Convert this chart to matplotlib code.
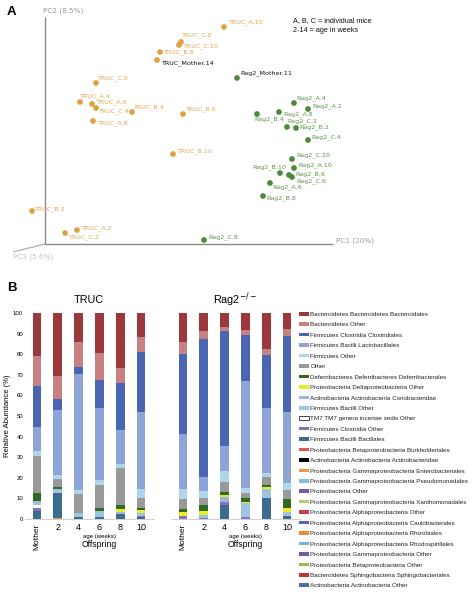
import matplotlib
matplotlib.use("Agg")
import matplotlib.pyplot as plt
from matplotlib.patches import Patch
import numpy as np

# ---------------- Panel A data (PCoA scores) ----------------
truc_names = ["TRUC_A.10", "TRUC_C.8", "TRUC_C.10", "TRUC_B.8", "TRUC_Mother.14", "TRUC_C.6",
              "TRUC_A.4", "TRUC_A.6", "TRUC_C.4", "TRUC_B.4", "TRUC_A.8", "TRUC_B.6",
              "TRUC_B.10", "TRUC_B.2", "TRUC_A.2", "TRUC_C.2"]
truc_pc1 = [0.068, -0.018, -0.022, -0.060, -0.066, -0.188, -0.220, -0.196, -0.188, -0.116,
            -0.194, -0.014, -0.034, -0.316, -0.226, -0.250]
truc_pc2 = [0.206, 0.176, 0.170, 0.156, 0.140, 0.094, 0.056, 0.052, 0.044, 0.036,
            0.018, 0.032, -0.048, -0.162, -0.200, -0.206]

rag_names = ["Rag2_Mother.11", "Rag2_A.4", "Rag2_A.2", "Rag2_A.8", "Rag2_B.4", "Rag2_C.2",
             "Rag2_B.2", "Rag2_C.4", "Rag2_C.10", "Rag2_A.10", "Rag2_B.10", "Rag2_B.6",
             "Rag2_C.6", "Rag2_A.6", "Rag2_B.8", "Rag2_C.8"]
rag_pc1 = [0.094, 0.208, 0.236, 0.178, 0.134, 0.194, 0.212, 0.236, 0.204, 0.208, 0.180,
           0.198, 0.204, 0.160, 0.146, 0.028]
rag_pc2 = [0.104, 0.054, 0.042, 0.036, 0.032, 0.006, 0.004, -0.020, -0.058, -0.076, -0.086,
           -0.090, -0.094, -0.106, -0.132, -0.220]

# label offsets (pixels: dx right, dy down) -- style only
truc_off = [(4, -5), (0, -7), (4, 1), (3, 0), (4, 3), (1, -5), (-1, -6), (4, -2), (2, 3),
            (1, -5), (4, 2), (2, -5), (4, -3), (2, -2), (4, -2), (3, 4)]
rag_off = [(3, -5), (2, -5), (4, -3), (4, 2), (-3, 5), (0, -6), (3, -1), (3, -3), (4, -4),
           (4, -3), (-28, -6), (6, -1), (4, 4), (2, 4), (3, 2), (4, -3)]

# ---------------- Panel B data (relative abundance, %) ----------------
samples = ["Mother", "2", "4", "6", "8", "10"]
taxa = [
    "Bacteroidetes Bacteroidetes Bacteroidales",
    "Bacteroidetes Other",
    "Firmicutes Clostridia Clostridiales",
    "Firmicutes Bacilli Lactobacillales",
    "Firmicutes Other",
    "Other",
    "Deferribacteres Deferribacteres Deferribacterales",
    "Proteobacteria Deltaproteobacteria Other",
    "Actinobacteria Actinobacteria Coriobacteridae",
    "Firmicutes Bacilli Other",
    "TM7 TM7 genera incertae sedis Other",
    "Firmicutes Clostridia Other",
    "Firmicutes Bacilli Bacillales",
    "Proteobacteria Betaproteobacteria Burkholderiales",
    "Actinobacteria Actinobacteria Actinobacteridae",
    "Proteobacteria Gammaproteobacteria Enterobacteriales",
    "Proteobacteria Gammaproteobacteria Pseudomonadales",
    "Proteobacteria Other",
    "Proteobacteria Gammaproteobacteria Xanthomonadales",
    "Proteobacteria Alphaproteobacteria Other",
    "Proteobacteria Alphaproteobacteria Caulobacterales",
    "Proteobacteria Alphaproteobacteria Rhizobiales",
    "Proteobacteria Alphaproteobacteria Rhodospirillales",
    "Proteobacteria Gammaproteobacteria Other",
    "Proteobacteria Betaproteobacteria Other",
    "Bacteroidetes Sphingobacteria Sphingobacteriales",
    "Actinobacteria Actinobacteria Other",
]
# values: TRUC Mother,2,4,6,8,10 then Rag2 Mother,2,4,6,8,10
bacteroidales     = [20.7, 30.6, 13.9, 19.4, 26.7, 11.6, 14.2, 8.6, 6.6, 8.1, 17.6, 7.9]
bacteroidetes_oth = [14.5, 11.3, 12.1, 12.9, 7.3, 7.3, 5.5, 3.9, 2.1, 2.4, 3.0, 3.3]
clostridiales     = [20.2, 5.1, 3.7, 14.0, 22.6, 29.0, 38.8, 67.0, 55.7, 22.7, 25.3, 36.9]
lactobacillales   = [11.6, 31.5, 56.0, 34.8, 16.6, 37.6, 26.8, 7.0, 12.5, 51.6, 31.6, 34.4]
firmicutes_oth    = [2.6, 2.2, 2.0, 2.3, 1.8, 4.3, 4.8, 3.4, 5.3, 2.8, 2.0, 3.2]
other             = [18.0, 3.9, 9.4, 11.3, 18.3, 4.9, 5.0, 3.4, 4.7, 2.2, 4.0, 4.5]
deferribacterales = [3.6, 0.8, 0.0, 1.3, 1.7, 1.1, 1.5, 2.9, 1.4, 1.8, 0.9, 4.5]
delta_oth         = [0.0, 0.0, 0.0, 0.0, 1.6, 1.3, 2.0, 2.0, 1.0, 0.6, 1.0, 1.9]
coriobacteridae   = [1.2, 0.0, 0.0, 0.0, 1.1, 0.0, 0.0, 0.0, 2.4, 0.0, 0.0, 0.0]
bacilli_oth       = [0.6, 2.0, 1.9, 3.2, 0.0, 1.3, 0.0, 1.2, 0.0, 6.8, 4.4, 1.9]
tm7               = [1.6, 0.0, 0.0, 0.0, 0.0, 0.0, 0.0, 0.0, 0.0, 0.0, 0.0, 0.0]
clostridia_oth    = [1.6, 0.0, 0.0, 0.0, 0.0, 0.6, 1.4, 0.6, 1.5, 1.0, 0.0, 0.0]
bacillales        = [3.8, 12.2, 1.0, 0.8, 2.3, 1.0, 0.0, 0.0, 6.8, 0.0, 10.2, 1.5]
burkholderiales   = [0.0] * 12
actinobacteridae  = [0.0] * 12
enterobacteriales = [0.0, 0.4, 0.0, 0.0, 0.0, 0.0, 0.0, 0.0, 0.0, 0.0, 0.0, 0.0]
pseudomonadales   = [0.0] * 12
proteo_oth        = [0.0] * 12
xanthomonadales   = [0.0] * 12
alpha_oth         = [0.0] * 12
caulobacterales   = [0.0] * 12
rhizobiales       = [0.0] * 12
rhodospirillales  = [0.0] * 12
gamma_oth         = [0.0] * 12
beta_oth          = [0.0] * 12
sphingobacteriales = [0.0] * 12
actino_oth        = [0.0] * 12

abundance = [bacteroidales, bacteroidetes_oth, clostridiales, lactobacillales, firmicutes_oth,
             other, deferribacterales, delta_oth, coriobacteridae, bacilli_oth, tm7,
             clostridia_oth, bacillales, burkholderiales, actinobacteridae, enterobacteriales,
             pseudomonadales, proteo_oth, xanthomonadales, alpha_oth, caulobacterales,
             rhizobiales, rhodospirillales, gamma_oth, beta_oth, sphingobacteriales, actino_oth]

colors = ["#9B383B", "#C78180", "#4A66B2", "#8EA4D8", "#AED6EA", "#999999", "#2E6A1F",
          "#E6EE2C", "#A2B2DF", "#9CC5DF", "#FFFFFF", "#8B6EBF", "#3D6B8D", "#D65A55",
          "#000000", "#E39A4B", "#7DBEDF", "#6D5FB5", "#B8CC6B", "#C8414B", "#5A62BD",
          "#E08E3C", "#7AB3D9", "#6F5BA7", "#9FB85A", "#B7343A", "#4C6DB3"]

# ---------------- Figure ----------------
W, H = 473, 600
fig = plt.figure(figsize=(W / 100, H / 100), dpi=100)

def fx(x):
    return x / W

def fy(y):
    return 1 - y / H

# ---- Panel A ----
axA = fig.add_axes([0, fy(280), 1, 280 / H])
axA.set_xlim(-0.38, 0.566)
axA.set_ylim(-0.30, 0.26)
axA.axis("off")

def d(xp, yp):
    return (xp - 190) / 500, (130 - yp) / 500

# axes lines
x0, y0 = d(45, 244)
_, ytop = d(45, 17)
x1, _ = d(333, 244)
x3, y3 = d(13, 252)
axA.plot([x0, x0], [y0, ytop], color="#8a8a8a", lw=1.0, solid_capstyle="butt")
axA.plot([x0, x1], [y0, y0], color="#8a8a8a", lw=1.0, solid_capstyle="butt")
axA.plot([x0, x3], [y0, y3], color="#b5b5b5", lw=1.0, solid_capstyle="butt")

fig.text(fx(43), fy(11), "PC2 (8.5%)", fontsize=5.2, color="#9a9a9a", ha="left", va="center",
         family="DejaVu Sans")
fig.text(fx(336), fy(241), "PC1 (20%)", fontsize=5.2, color="#9a9a9a", ha="left", va="center",
         family="DejaVu Sans")
fig.text(fx(13), fy(257), "PC3 (5.6%)", fontsize=5.2, color="#c2c2c2", ha="left", va="center",
         family="DejaVu Sans")
fig.text(fx(293), fy(21), "A, B, C = individual mice", fontsize=5.2, color="#111111",
         ha="left", va="center", family="Liberation Sans")
fig.text(fx(293), fy(31), "2-14 = age in weeks", fontsize=5.2, color="#111111",
         ha="left", va="center", family="Liberation Sans")
fig.text(fx(7), fy(12), "A", fontsize=9.5, fontweight="bold", ha="left", va="center",
         family="Liberation Sans")

truc_c = "#DFA03E"
rag_c = "#4C8A3A"
axA.scatter(truc_pc1, truc_pc2, s=17, color=truc_c, edgecolors="none", zorder=3)
axA.scatter(rag_pc1, rag_pc2, s=17, color=rag_c, edgecolors="none", zorder=3)

for nm, px, py, (dx, dy) in zip(truc_names, truc_pc1, truc_pc2, truc_off):
    black = "Mother" in nm
    axA.annotate(nm, (px, py), xytext=(dx * 0.72, -dy * 0.72), textcoords="offset points",
                 fontsize=4.6, color="#111111" if black else "#E0A850",
                 ha="left", va="center", family="DejaVu Sans")
for nm, px, py, (dx, dy) in zip(rag_names, rag_pc1, rag_pc2, rag_off):
    black = "Mother" in nm
    axA.annotate(nm, (px, py), xytext=(dx * 0.72, -dy * 0.72), textcoords="offset points",
                 fontsize=4.6, color="#111111" if black else "#5B9448",
                 ha="left", va="center", family="DejaVu Sans")

# ---- Panel B ----
fig.text(fx(7), fy(288), "B", fontsize=9.5, fontweight="bold", ha="left", va="center",
         family="Liberation Sans")

axT = fig.add_axes([fx(24.5), fy(519), 129 / W, 206 / H])
axR = fig.add_axes([fx(170.5), fy(519), 129 / W, 206 / H])

xpos = np.arange(len(samples))
for ax, sl, title in [(axT, slice(0, 6), "TRUC"), (axR, slice(6, 12), "Rag2$^{-/-}$")]:
    bottom = np.zeros(len(samples))
    for vals, col in zip(reversed(abundance), reversed(colors)):
        v = np.array(vals[sl])
        ax.bar(xpos, v, 0.43, bottom=bottom, color=col, edgecolor="none", linewidth=0)
        bottom += v
    ax.set_xlim(-0.6, 5.6)
    ax.set_ylim(0, 100)
    for s in ["top", "right", "left"]:
        ax.spines[s].set_visible(False)
    ax.spines["bottom"].set_color("#c8c8c8")
    ax.spines["bottom"].set_linewidth(0.6)
    ax.set_xticks(xpos)
    ax.set_xticklabels(samples, fontsize=6.5, family="Liberation Sans")
    ax.tick_params(axis="x", length=0, pad=3)
    lbls = ax.get_xticklabels()
    lbls[0].set_rotation(90)
    lbls[0].set_fontsize(6.0)
    ax.set_title(title, fontsize=7.8, family="Liberation Sans", pad=7)
    ax.text(3, -0.085, "age (weeks)", fontsize=4.3, ha="center", va="center",
            transform=ax.get_xaxis_transform(), family="Liberation Sans")
    ax.text(3, -0.125, "Offspring", fontsize=6.2, ha="center", va="center",
            transform=ax.get_xaxis_transform(), family="Liberation Sans")

axT.set_yticks(np.arange(0, 101, 10))
axT.tick_params(axis="y", length=0, pad=1, labelsize=4.3)
for t in axT.get_yticklabels():
    t.set_family("Liberation Sans")
axT.set_ylabel("Relative Abundance (%)", fontsize=5.5, family="Liberation Sans")
axT.yaxis.set_label_coords(-0.105, 0.5)
axR.set_yticks([])

handles = []
for col in colors:
    if col == "#FFFFFF":
        handles.append(Patch(facecolor="white", edgecolor="black", linewidth=0.5))
    else:
        handles.append(Patch(facecolor=col, edgecolor="none"))
leg = fig.legend(handles, taxa, loc="upper left", bbox_to_anchor=(fx(299), fy(312)),
                 frameon=False, handlelength=1.6, handleheight=0.5,
                 handletextpad=0.2, labelspacing=0.87, borderaxespad=0, borderpad=0,
                 prop={"family": "Liberation Sans", "size": 4.5})
for t in leg.get_texts():
    t.set_color("#222222")

fig.savefig("out.png", dpi=100)
